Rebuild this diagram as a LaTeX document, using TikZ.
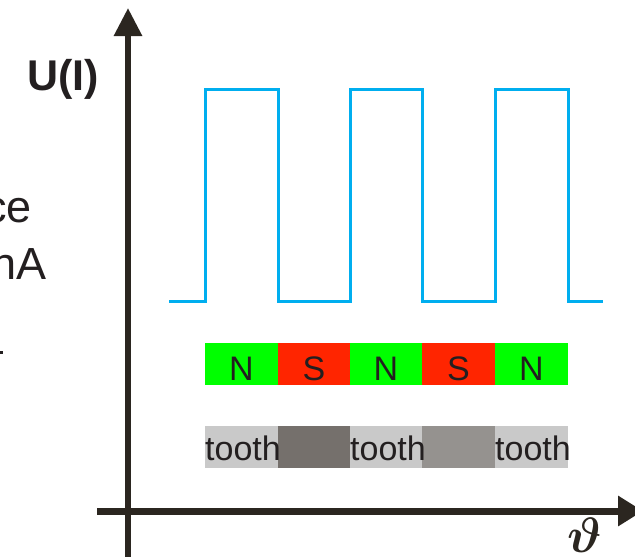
\documentclass[tikz,border=0pt]{standalone}
\usepackage{fontspec}
\setmainfont{Liberation Sans}
\usetikzlibrary{arrows.meta}

\definecolor{axisink}{HTML}{2B2620}
\definecolor{signal}{HTML}{00AEEF}
\definecolor{northpole}{HTML}{00FF00}
\definecolor{southpole}{HTML}{FF2500}
\definecolor{toothgray}{HTML}{C9C9C9}
\definecolor{gapdark}{HTML}{75706C}
\definecolor{gapmid}{HTML}{95928F}
\definecolor{labelink}{HTML}{231F20}

\tikzset{
  axisline/.style={draw=axisink, line width=6pt},
  magnetseg/.style={minimum width=73pt, minimum height=42pt, inner sep=0pt,
    text height=32pt, text depth=0pt, text=labelink,
    font=\fontsize{34}{40}\selectfont},
  wheelseg/.style={minimum width=73pt, minimum height=42pt, inner sep=0pt},
  toothlabel/.style={anchor=base west, inner sep=0pt, text=labelink,
    font=\fontsize{34}{40}\selectfont},
  sidetext/.style={anchor=base east, inner sep=0pt, text=labelink,
    font=\fontsize{45}{52}\selectfont},
}

\begin{document}
\begin{tikzpicture}[x=1pt, y=-1pt]
  \clip (0,0) rectangle (635,557);
  \fill[white] (0,0) rectangle (635,557);

  % partially visible side text
  \node[sidetext] (lineA) at (32,222) {ce};
  \node[sidetext] (lineB) at (47,279) {nA};
  \fill[labelink] (0,350.5) rectangle (3,353.5);

  % axes
  \coordinate (ybot) at (128,557);
  \coordinate (ytop) at (128,8);
  \coordinate (xleft) at (97,511);
  \coordinate (xright) at (643,511);
  \draw[axisline, -{Triangle[length=28pt, width=27pt]}] (ybot) -- (ytop);
  \draw[axisline, line width=7pt, -{Triangle[length=25pt, width=29pt]}] (xleft) -- (xright);

  \node[anchor=base west, inner sep=0pt, text=labelink,
        font=\bfseries\fontsize{43}{50}\selectfont] (ylabel) at (27,90) {U(I)};
  \node[inner sep=0pt, text=axisink, scale=2,
        font={\boldmath\fontsize{24}{28}\selectfont}]
        (xlabel) at (585,535) {$\vartheta$};

  % output signal
  \draw[signal, line width=3pt, line join=miter]
    (169,301) -- (205,301) -- (205,89) -- (278,89) -- (278,301)
    -- (350,301) -- (350,89) -- (422,89) -- (422,301)
    -- (495,301) -- (495,89) -- (568,89) -- (568,301) -- (603,301);

  % magnet poles
  \node[magnetseg, fill=northpole] (m1) at (241.5,364) {N};
  \node[magnetseg, fill=southpole] (m2) at (314,364) {S};
  \node[magnetseg, fill=northpole] (m3) at (386,364) {N};
  \node[magnetseg, fill=southpole] (m4) at (458.5,364) {S};
  \node[magnetseg, fill=northpole] (m5) at (531.5,364) {N};

  % target wheel: teeth and gaps
  \node[wheelseg, fill=toothgray] (t1) at (241.5,447) {};
  \node[wheelseg, fill=gapdark]   (t2) at (314,447) {};
  \node[wheelseg, fill=toothgray] (t3) at (386,447) {};
  \node[wheelseg, fill=gapmid]    (t4) at (458.5,447) {};
  \node[wheelseg, fill=toothgray] (t5) at (531.5,447) {};
  \node[toothlabel] (l1) at (205,460) {tooth};
  \node[toothlabel] (l3) at (350,460) {tooth};
  \node[toothlabel] (l5) at (495,460) {tooth};
\end{tikzpicture}
\end{document}
